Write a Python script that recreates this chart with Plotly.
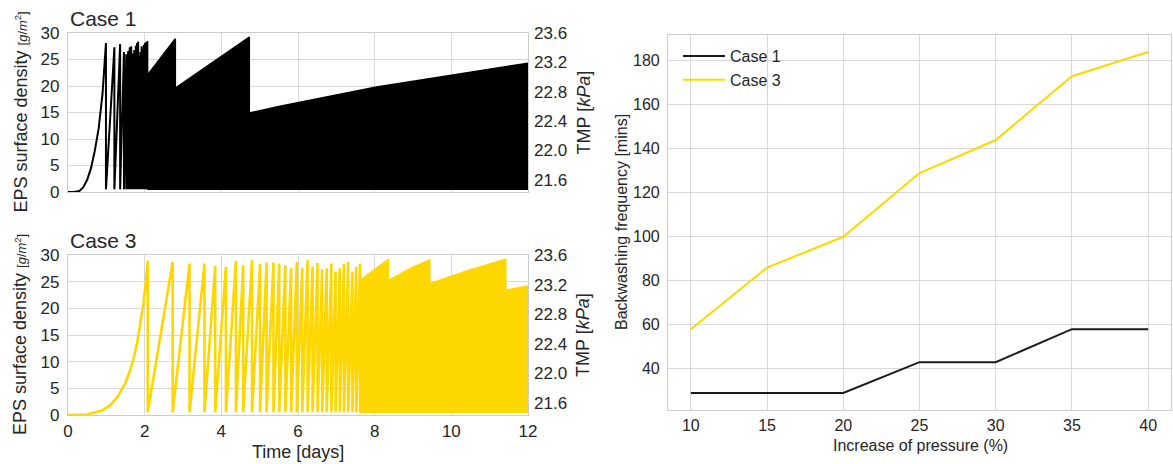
import plotly.graph_objects as go

# ---------------- data ----------------
# Case 1: initial EPS build-up (days, g/m^2)
ramp1_t = [0, 0.15, 0.3, 0.4, 0.5, 0.6, 0.7, 0.8, 0.9, 0.99]
ramp1_v = [0, 0.0, 0.2, 0.9, 2.3, 4.5, 7.8, 12.0, 18.5, 28.1]
# Case 1: individual backwash cycles (peak time, peak EPS)
peaks1_t = [1.21, 1.36, 1.46, 1.52, 1.57, 1.61, 1.65, 1.69, 1.73, 1.77, 1.80,
            1.83, 1.86, 1.89, 1.92, 1.95, 1.98, 2.01, 2.04, 2.07]
peaks1_v = [27.3, 27.9, 26.4, 26.0, 26.6, 27.3, 27.5, 26.2, 26.8, 27.6, 28.1,
            28.4, 25.7, 26.4, 27.5, 27.0, 27.8, 28.1, 28.3, 28.5]
# Case 1: upper envelope of the dense cycling period
env1_t = [2.08, 2.80, 2.80, 4.73, 4.73, 5.53, 8.05, 12.0]
env1_v = [22.1, 28.9, 19.6, 29.2, 14.9, 16.2, 19.8, 24.3]

# Case 3: initial EPS build-up
ramp3_t = [0, 0.5, 0.9, 1.1, 1.3, 1.5, 1.6, 1.7, 1.8, 1.9, 1.97, 2.03, 2.08]
ramp3_v = [0, 0.1, 0.9, 1.8, 3.5, 6.0, 8.0, 10.3, 13.4, 17.4, 21.0, 24.8, 28.9]
# Case 3: individual backwash cycles
peaks3_t = [2.73, 3.17, 3.56, 3.84, 4.12, 4.38, 4.57, 4.80, 5.01, 5.18, 5.36,
            5.51, 5.67, 5.82, 5.97, 6.11, 6.25, 6.38, 6.51, 6.63, 6.75, 6.87,
            6.98, 7.09, 7.20, 7.31, 7.42, 7.52, 7.62]
peaks3_v = [28.7, 28.4, 28.4, 27.9, 27.8, 28.9, 28.1, 29.1, 28.3, 28.6, 28.6,
            28.4, 28.1, 27.5, 28.7, 27.5, 29.0, 27.8, 28.5, 27.3, 27.5, 28.4,
            26.9, 27.5, 28.4, 28.7, 26.9, 27.8, 28.4]
# Case 3: upper envelope of the dense cycling period
env3_t = [7.64, 8.36, 8.36, 8.9, 9.44, 9.44, 10.4, 11.42, 11.42, 12.0]
env3_v = [25.4, 29.2, 25.2, 27.4, 29.1, 24.6, 27.0, 29.2, 23.4, 24.2]

eps_base = 0.5

tmp_ticks = [21.6, 22.0, 22.4, 22.8, 23.2, 23.6]
tmp_range = [21.435, 23.6]

# Backwashing frequency vs. pressure increase
pressure = [10, 15, 20, 25, 30, 35, 40]
freq_case1 = [29, 29, 29, 43, 43, 58, 58]
freq_case3 = [58, 86, 100, 129, 144, 173, 184]

BLACK = "#000000"
GOLD = "#FFD700"
TXT = "#262626"
GRID = "#d8d8d8"
FRAME = "#cccccc"
FONT = "Liberation Sans, Arial, sans-serif"


def sawtooth(ramp_t, ramp_v, peak_t, peak_v, base):
    xs, ys = list(ramp_t), list(ramp_v)
    xs.append(ramp_t[-1])
    ys.append(base)
    for t, v in zip(peak_t, peak_v):
        xs += [t, t]
        ys += [v, base]
    return xs, ys


def envelope(start_t, env_t, env_v, base):
    xs = [start_t] + list(env_t) + [env_t[-1], start_t]
    ys = [base] + list(env_v) + [base, base]
    return xs, ys


fig = go.Figure()

# ---- Case 1 ----
x1, y1 = sawtooth(ramp1_t, ramp1_v, peaks1_t, peaks1_v, eps_base)
fig.add_trace(go.Scatter(x=x1, y=y1, mode="lines", line=dict(color=BLACK, width=2),
                         xaxis="x", yaxis="y", showlegend=False, hoverinfo="skip"))
ex1, ey1 = envelope(peaks1_t[-1], env1_t, env1_v, eps_base)
fig.add_trace(go.Scatter(x=ex1, y=ey1, mode="lines", fill="toself", fillcolor=BLACK,
                         line=dict(color=BLACK, width=1.5),
                         xaxis="x", yaxis="y", showlegend=False, hoverinfo="skip"))
# TMP axis carrier (right-hand scale)
fig.add_trace(go.Scatter(x=[], y=[], mode="lines", xaxis="x", yaxis="y2",
                         showlegend=False, hoverinfo="skip"))

# ---- Case 3 ----
x3, y3 = sawtooth(ramp3_t, ramp3_v, peaks3_t, peaks3_v, eps_base)
fig.add_trace(go.Scatter(x=x3, y=y3, mode="lines", line=dict(color=GOLD, width=2.6),
                         xaxis="x2", yaxis="y3", showlegend=False, hoverinfo="skip"))
ex3, ey3 = envelope(peaks3_t[-1], env3_t, env3_v, eps_base)
fig.add_trace(go.Scatter(x=ex3, y=ey3, mode="lines", fill="toself", fillcolor=GOLD,
                         line=dict(color=GOLD, width=1.5),
                         xaxis="x2", yaxis="y3", showlegend=False, hoverinfo="skip"))
fig.add_trace(go.Scatter(x=[], y=[], mode="lines", xaxis="x2", yaxis="y4",
                         showlegend=False, hoverinfo="skip"))

# ---- backwashing frequency ----
fig.add_trace(go.Scatter(x=pressure, y=freq_case1, mode="lines", name="Case 1",
                         line=dict(color="#1a1a1a", width=2), legendgroup="a",
                         xaxis="x3", yaxis="y5"))
fig.add_trace(go.Scatter(x=pressure, y=freq_case3, mode="lines", name="Case 3",
                         line=dict(color=GOLD, width=2), legendgroup="b",
                         xaxis="x3", yaxis="y5"))

W, H = 1173, 464
LX = [68 / W, 528 / W]
Y_TOP = [1 - 192 / H, 1 - 33 / H]
Y_BOT = [1 - 415 / H, 1 - 255 / H]
RX = [668 / W, 1171 / W]
RY = [1 - 410 / H, 1 - 35 / H]

common = dict(showgrid=True, gridcolor=GRID, gridwidth=1, zeroline=False,
              showline=True, mirror=True, linecolor=FRAME, linewidth=1.2,
              ticks="", color=TXT, automargin=False)
right = dict(side="right", range=tmp_range, tickvals=tmp_ticks, tickformat=".1f",
             showgrid=False, zeroline=False, showline=False, ticks="", color=TXT,
             tickfont=dict(size=17), ticklabelstandoff=5, automargin=False)

fig.update_layout(
    template="none",
    width=W, height=H,
    margin=dict(l=0, r=0, t=0, b=0, pad=0, autoexpand=False),
    paper_bgcolor="white", plot_bgcolor="white",
    font=dict(family=FONT, color=TXT),
    xaxis=dict(domain=LX, range=[0, 12], dtick=2, anchor="y", showticklabels=False, **common),
    yaxis=dict(domain=Y_TOP, range=[0, 30], dtick=5, anchor="x",
               tickfont=dict(size=17), ticklabelstandoff=4, **common),
    yaxis2=dict(overlaying="y", anchor="x", **right),
    xaxis2=dict(domain=LX, range=[0, 12], dtick=2, anchor="y3",
                tickfont=dict(size=17), ticklabelstandoff=0, **common),
    yaxis3=dict(domain=Y_BOT, range=[0, 30], dtick=5, anchor="x2",
                tickfont=dict(size=17), ticklabelstandoff=4, **common),
    yaxis4=dict(overlaying="y3", anchor="x2", **right),
    xaxis3=dict(domain=RX, range=[8.5, 41.5], tickvals=pressure, anchor="y5",
                tickfont=dict(size=16), ticklabelstandoff=1, **common),
    yaxis5=dict(domain=RY, range=[21.25, 191.75], tickvals=[40, 60, 80, 100, 120, 140, 160, 180],
                anchor="x3", tickfont=dict(size=16), ticklabelstandoff=4, **common),
    legend=dict(x=678 / W, y=1 - 39 / H, xanchor="left", yanchor="top",
                bgcolor="rgba(0,0,0,0)", font=dict(size=16, color=TXT),
                tracegroupgap=0, itemwidth=42),
)

eps_label = ("EPS surface density <span style='font-size:13px'>"
             "[<i>g</i>/<i>m</i><sup>2</sup>]</span>")
tmp_label = "TMP [<i>kPa</i>]"

ann = []
for ymid in [(33 + 192) / 2, (255 + 415) / 2]:
    ann.append(dict(text=eps_label, x=20 / W, y=1 - ymid / H, textangle=-90,
                    font=dict(size=18, color=TXT)))
    ann.append(dict(text=tmp_label, x=583 / W, y=1 - ymid / H, textangle=-90,
                    font=dict(size=18, color=TXT)))
ann.append(dict(text="Case 1", x=68 / W, y=1 - 18 / H, xanchor="left",
                font=dict(size=21, color=TXT)))
ann.append(dict(text="Case 3", x=68 / W, y=1 - 240 / H, xanchor="left",
                font=dict(size=21, color=TXT)))
ann.append(dict(text="Time [days]", x=298 / W, y=1 - 452 / H,
                font=dict(size=18, color=TXT)))
ann.append(dict(text="Backwashing frequency [mins]", x=621 / W, y=1 - 222 / H,
                textangle=-90, font=dict(size=16, color=TXT)))
ann.append(dict(text="Increase of pressure (%)", x=920 / W, y=1 - 445 / H,
                font=dict(size=16, color=TXT)))
for a in ann:
    a.update(xref="paper", yref="paper", showarrow=False)
    a.setdefault("xanchor", "center")
    a.setdefault("yanchor", "middle")
fig.update_layout(annotations=ann)

fig.write_html("out.html")
